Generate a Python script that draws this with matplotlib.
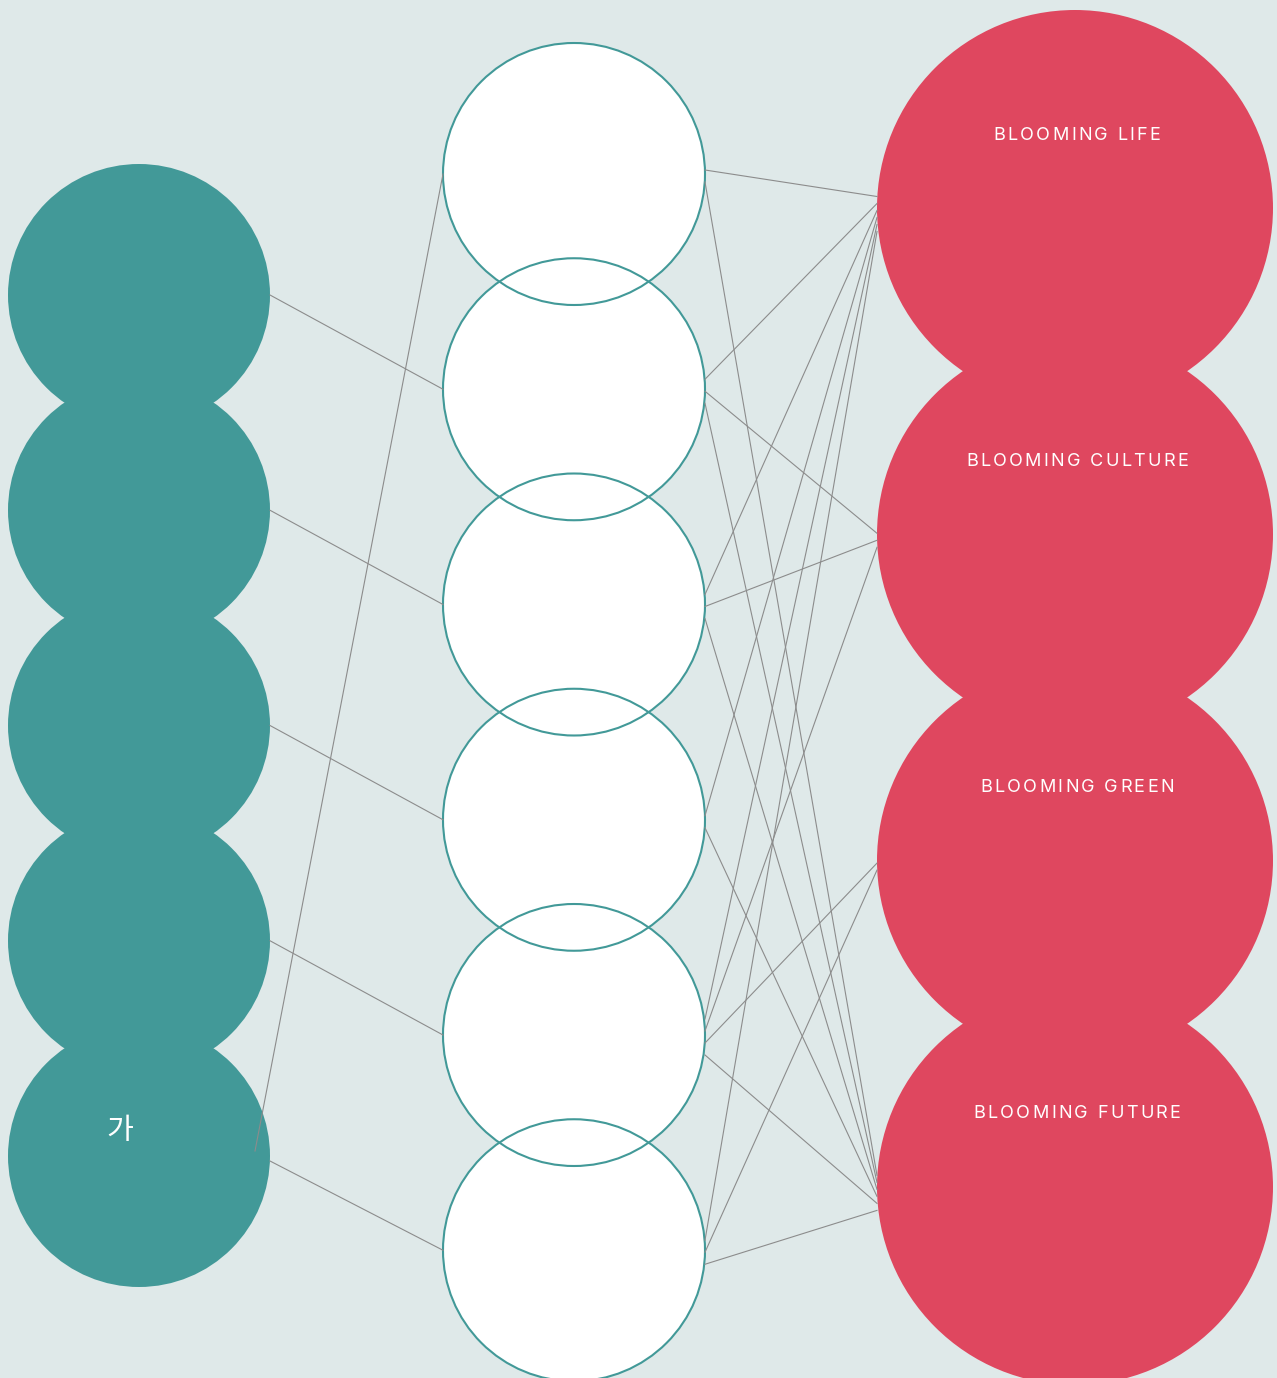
import matplotlib
matplotlib.use("Agg")
import matplotlib.pyplot as plt
from matplotlib.patches import Circle
from matplotlib.font_manager import FontProperties

# colours
BG = "#DFE9E9"
TEAL = "#429998"
RED = "#DF475F"
LINK = "#8C8C8C"

# nodes, column by column
left_labels = ["", "", "", "", "가"]
mid_labels = ["", "", "", "", "", ""]
right_labels = ["BLOOMING LIFE", "BLOOMING CULTURE", "BLOOMING GREEN", "BLOOMING FUTURE"]

# links: (left node, middle node)
left_links = [(0, 1), (1, 2), (2, 3), (3, 4), (4, 5), (4, 0)]
# links: (middle node, right node)
right_links = [(0, 0), (0, 3),
               (1, 0), (1, 1), (1, 3),
               (2, 0), (2, 1), (2, 3),
               (3, 0), (3, 3),
               (4, 0), (4, 1), (4, 2), (4, 3),
               (5, 0), (5, 2), (5, 3)]

W, H = 1277, 1378
fig = plt.figure(figsize=(W / 100, H / 100), dpi=100, facecolor=BG)
ax = fig.add_axes([0, 0, 1, 1])
ax.set_xlim(0, W)
ax.set_ylim(H, 0)
ax.set_facecolor(BG)
ax.axis("off")

# layout in pixels
left_x, left_r = 139, 131
mid_x, mid_r = 574, 131
right_x, right_r = 1075, 198
left_y = [295 + 215.25 * i for i in range(len(left_labels))]
mid_y = [174 + 215.25 * i for i in range(len(mid_labels))]
right_y = [208 + 326.3 * i for i in range(len(right_labels))]


def ports(links, side, own_y, other_y, gap, shift=0):
    # stack link ends on one side of a node, sorted by the other end's height
    out = {}
    nodes = set(l[side] for l in links)
    for n in nodes:
        mine = [l for l in links if l[side] == n]
        mine.sort(key=lambda l: other_y[l[1 - side]])
        k = len(mine)
        for i, l in enumerate(mine):
            out[l] = own_y[n] + shift + (i - (k - 1) / 2) * gap
    return out


# circles
for cy in left_y:
    ax.add_patch(Circle((left_x, cy), left_r, facecolor=TEAL, edgecolor="none", zorder=1))
for cy in mid_y:
    ax.add_patch(Circle((mid_x, cy), mid_r, facecolor="white", edgecolor="none", zorder=2))
for cy in mid_y:
    ax.add_patch(Circle((mid_x, cy), mid_r, facecolor="none", edgecolor=TEAL, lw=1.5, zorder=3))
for cy in right_y:
    ax.add_patch(Circle((right_x, cy), right_r, facecolor=RED, edgecolor="none", zorder=1))

# links left -> middle
a = ports(left_links, 0, left_y, mid_y, 10)
b = ports(left_links, 1, mid_y, left_y, 10)
for l in left_links:
    x0 = left_x + left_r - (15 if l == (4, 0) else 0)
    ax.plot([x0, mid_x - mid_r], [a[l], b[l]], color=LINK, lw=0.8, zorder=4)

# links middle -> right
a = ports(right_links, 0, mid_y, right_y, 12, 2)
b = ports(right_links, 1, right_y, mid_y, 7, 6)
for l in right_links:
    ax.plot([mid_x + mid_r, right_x - right_r], [a[l], b[l]], color=LINK, lw=0.8, zorder=4)

# labels
renderer = fig.canvas.get_renderer()
fp = FontProperties(family=["Inter", "DejaVu Sans"], size=13, weight="normal")


def spaced_text(x, y, s, prop, track):
    w = lambda t: renderer.get_text_width_height_descent(t, prop, ismath=False)[0]
    total = w(s) + (len(s) - 1) * track
    x0 = x - total / 2
    for k, ch in enumerate(s):
        if ch == " ":
            continue
        off = w(s[:k + 1]) - w(ch) + k * track
        ax.text(x0 + off, y, ch, fontproperties=prop, color="white",
                ha="left", va="center", zorder=5)


for cy, lab in zip(right_y, right_labels):
    spaced_text(right_x + 2, cy - 73, lab, fp, 2.3)

for cy, lab in zip(left_y, left_labels):
    if lab:
        ax.text(left_x - 19, cy - 25, lab, color="white", fontsize=21,
                family=["Noto Sans CJK KR", "DejaVu Sans"], ha="center", va="center", zorder=5)

plt.savefig("out.png", dpi=100, facecolor=BG)
